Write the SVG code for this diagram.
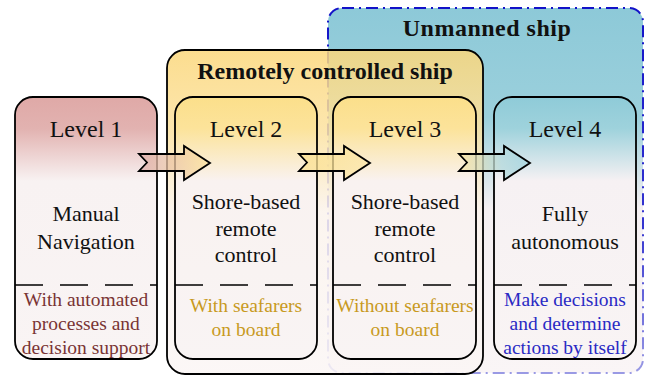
<svg xmlns="http://www.w3.org/2000/svg" width="645" height="376" viewBox="0 0 645 376">
<defs>
<linearGradient id="gU" x1="0" y1="0" x2="0" y2="1">
<stop offset="0" stop-color="#8dc9d8"/><stop offset="0.3" stop-color="#9bd0dc"/><stop offset="0.55" stop-color="#f5f0f2"/><stop offset="1" stop-color="#faf5f6"/>
</linearGradient>
<linearGradient id="sU" x1="0" y1="0" x2="0" y2="1">
<stop offset="0" stop-color="#1212c8"/><stop offset="0.6" stop-color="#3535d0"/><stop offset="1" stop-color="#9a9ae4"/>
</linearGradient>
<linearGradient id="gR" x1="0" y1="0" x2="0" y2="1">
<stop offset="0" stop-color="#fbd77b"/><stop offset="0.25" stop-color="#fce2a0"/><stop offset="0.5" stop-color="#fbf3ec"/><stop offset="1" stop-color="#fbf6f5"/>
</linearGradient>
<linearGradient id="g1" x1="0" y1="0" x2="0" y2="1">
<stop offset="0" stop-color="#dfa9a7"/><stop offset="0.12" stop-color="#e2b2b0"/><stop offset="0.32" stop-color="#f8f2f2"/><stop offset="1" stop-color="#f9f4f4"/>
</linearGradient>
<linearGradient id="g2" x1="0" y1="0" x2="0" y2="1">
<stop offset="0" stop-color="#fbdf8b"/><stop offset="0.12" stop-color="#fce39a"/><stop offset="0.32" stop-color="#f9f2f0"/><stop offset="1" stop-color="#f9f4f4"/>
</linearGradient>
<linearGradient id="g4" x1="0" y1="0" x2="0" y2="1">
<stop offset="0" stop-color="#8fcbd8"/><stop offset="0.12" stop-color="#9ed2dc"/><stop offset="0.32" stop-color="#f6f1f3"/><stop offset="1" stop-color="#f9f4f4"/>
</linearGradient>
<linearGradient id="a1" x1="0" y1="0" x2="1" y2="0">
<stop offset="0" stop-color="#dcaaaa"/><stop offset="1" stop-color="#fde39b"/>
</linearGradient>
<linearGradient id="a2" x1="0" y1="0" x2="1" y2="0">
<stop offset="0" stop-color="#fbe08e"/><stop offset="1" stop-color="#fce6a6"/>
</linearGradient>
<linearGradient id="a3" x1="0" y1="0" x2="1" y2="0">
<stop offset="0" stop-color="#fae2a0"/><stop offset="0.6" stop-color="#b5d9dc"/><stop offset="1" stop-color="#9fd3df"/>
</linearGradient>
<path id="arrow" d="M139,154 L184,154 L184,146 L210,163 L184,180 L184,171 L139,171 L147,162.5 Z"/>
</defs>
<style>
.box{stroke:#000;stroke-width:1.8}
.div{stroke:#000;stroke-width:1.6;stroke-dasharray:28 17;fill:none}
.t{font-family:"Liberation Serif","Times New Roman",serif;text-anchor:middle;fill:#111}
.lv{font-size:24px}
.bd{font-size:22px}
.sm{font-size:19.5px}
.ttl{font-size:24px;font-weight:bold}
.arr{stroke:#000;stroke-width:1.8;fill-opacity:0.75}
</style>
<g id="unmanned-ship">
<rect x="328" y="8" width="315" height="365" rx="14" fill="url(#gU)" stroke="url(#sU)" stroke-width="2" stroke-dasharray="12 5 2 5"/>
<text class="t ttl" x="487" y="36" letter-spacing="0.5">Unmanned ship</text>
</g>
<g id="remote-ship">
<rect class="box" x="167" y="50" width="316" height="324" rx="18" fill="url(#gR)" fill-opacity="0.85"/>
<text class="t ttl" x="325" y="79">Remotely controlled ship</text>
</g>
<g id="level1">
<rect class="box" x="15" y="97" width="142" height="262" rx="18" fill="url(#g1)"/>
<line class="div" x1="15" y1="285" x2="157" y2="285"/>
<text class="t lv" x="86" y="137">Level 1</text>
<text class="t bd" x="86" y="221">Manual</text>
<text class="t bd" x="86" y="249">Navigation</text>
<text class="t sm" x="86" y="306" style="fill:#7a3434">With automated</text>
<text class="t sm" x="86" y="330" style="fill:#7a3434">processes and</text>
<text class="t sm" x="86" y="354" style="fill:#7a3434">decision support</text>
</g>
<g id="level2">
<rect class="box" x="175" y="97" width="142" height="262" rx="18" fill="url(#g2)"/>
<line class="div" x1="175" y1="285" x2="317" y2="285"/>
<text class="t lv" x="246" y="137">Level 2</text>
<text class="t bd" x="246" y="209">Shore-based</text>
<text class="t bd" x="246" y="236">remote</text>
<text class="t bd" x="246" y="262">control</text>
<text class="t sm" x="246" y="312" style="fill:#c89a1e">With seafarers</text>
<text class="t sm" x="246" y="336" style="fill:#c89a1e">on board</text>
</g>
<g id="level3">
<rect class="box" x="333" y="97" width="143" height="262" rx="18" fill="url(#g2)"/>
<line class="div" x1="333" y1="285" x2="476" y2="285"/>
<text class="t lv" x="405" y="137">Level 3</text>
<text class="t bd" x="405" y="209">Shore-based</text>
<text class="t bd" x="405" y="236">remote</text>
<text class="t bd" x="405" y="262">control</text>
<text class="t sm" x="405" y="312" style="fill:#c89a1e">Without seafarers</text>
<text class="t sm" x="405" y="336" style="fill:#c89a1e">on board</text>
</g>
<g id="level4">
<rect class="box" x="494" y="97" width="142" height="262" rx="18" fill="url(#g4)"/>
<line class="div" x1="494" y1="285" x2="636" y2="285"/>
<text class="t lv" x="565" y="137">Level 4</text>
<text class="t bd" x="565" y="221">Fully</text>
<text class="t bd" x="565" y="249">autonomous</text>
<text class="t sm" x="565" y="306" style="fill:#2a2ac4">Make decisions</text>
<text class="t sm" x="565" y="330" style="fill:#2a2ac4">and determine</text>
<text class="t sm" x="565" y="354" style="fill:#2a2ac4">actions by itself</text>
</g>
<g id="connectors">
<use href="#arrow" class="arr" fill="url(#a1)"/>
<use href="#arrow" class="arr" fill="url(#a2)" transform="translate(160,0)"/>
<use href="#arrow" class="arr" fill="url(#a3)" transform="translate(320,0)"/>
</g>
</svg>
